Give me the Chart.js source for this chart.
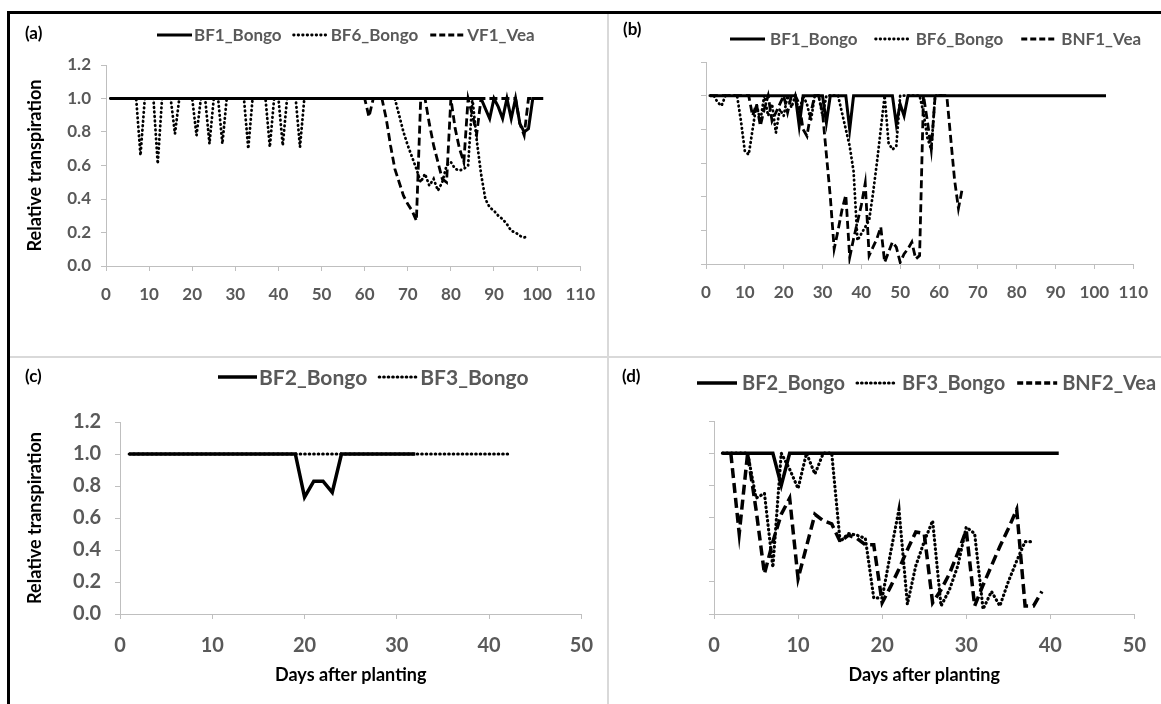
<!DOCTYPE html>
<html>
<head>
<meta charset="utf-8">
<script src="https://cdn.jsdelivr.net/npm/chart.js@4.4.1/dist/chart.umd.min.js"></script>
<style>
  body { margin: 0; background: #fff; }
  #fig { position: relative; width: 1161px; height: 704px; overflow: hidden; }
  canvas { position: absolute; }
  .line { position: absolute; }
</style>
</head>
<body>
<div id="fig">
  <canvas id="chartA" width="600" height="345" style="left:8px;top:12px"></canvas>
  <canvas id="chartB" width="553" height="345" style="left:608px;top:12px"></canvas>
  <canvas id="chartC" width="600" height="347" style="left:8px;top:357px"></canvas>
  <canvas id="chartD" width="553" height="347" style="left:608px;top:357px"></canvas>
  <div class="line" style="left:7px;top:11px;width:1154px;height:3px;background:#000"></div>
  <div class="line" style="left:7px;top:11px;width:3px;height:693px;background:#000"></div>
  <div class="line" style="left:607px;top:14px;width:2px;height:690px;background:#d9d9d9"></div>
  <div class="line" style="left:10px;top:356px;width:1151px;height:2px;background:#d9d9d9"></div>
</div>
<script>
// Panel (a)
const bf1A_days = [1, 87, 88, 89, 90, 91, 92, 93, 94, 95, 96, 97, 98, 99, 100];
const bf1A_vals = [1, 1, 0.94, 0.88, 1, 0.95, 0.88, 1, 0.88, 1, 0.85, 0.8, 0.82, 1, 1];
const bf6A_days = [1, 7, 8, 9, 11, 12, 13, 15, 16, 17, 20, 21, 22, 23, 24, 25, 26, 27, 28, 32, 33, 34, 37, 38, 39, 40, 41, 42, 44, 45, 46,
  67, 68, 69, 70, 71, 72, 73, 74, 75, 76, 77, 78, 79, 80, 81, 82, 83, 84, 85, 86, 87, 88, 89, 90, 91, 92, 93, 94, 95, 96, 97, 98];
const bf6A_vals = [1, 1, 0.66, 1, 1, 0.61, 1, 1, 0.79, 1, 1, 0.78, 1, 1, 0.73, 1, 1, 0.73, 1, 1, 0.7, 1, 1, 0.71, 1, 1, 0.72, 1, 1, 0.71, 1,
  1, 0.9, 0.8, 0.72, 0.65, 0.58, 0.5, 0.55, 0.48, 0.52, 0.45, 0.5, 0.6, 0.62, 0.58, 0.57, 0.58, 0.6, 1, 0.75, 0.55, 0.4, 0.35, 0.33, 0.3, 0.28, 0.25, 0.21, 0.2, 0.18, 0.17, 0.18];
const vf1A_days = [1, 60, 61, 62, 64, 65, 66, 67, 68, 69, 70, 71, 72, 73, 74, 75, 76, 77, 78, 79, 80, 81, 82, 83, 84, 85, 86, 87, 95, 96, 97, 98, 102];
const vf1A_vals = [1, 1, 0.89, 1, 1, 0.88, 0.72, 0.58, 0.5, 0.42, 0.37, 0.33, 0.27, 1, 1, 0.85, 0.72, 0.62, 0.52, 0.5, 1, 0.82, 0.7, 0.62, 1, 0.9, 0.79, 1, 1, 0.85, 0.78, 1, 1];

// Panel (b)
const bf1B_days = [1, 23, 24, 25, 30, 31, 32, 36, 37, 38, 48, 49, 50, 51, 52, 103];
const bf1B_vals = [1, 1, 0.82, 1, 1, 0.84, 1, 1, 0.8, 1, 1, 0.83, 0.95, 0.88, 1, 1];
const bf6B_days = [1, 2, 3, 4, 5, 8, 9, 10, 11, 12, 13, 14, 15, 16, 17, 18, 19, 20, 21, 22, 23, 24, 25, 26, 27, 28, 29, 30, 31, 34, 35, 36, 37, 38, 39, 40, 41, 42, 43, 44, 45, 46, 47, 48, 49, 50, 55, 56, 57, 58, 59, 61];
const bf6B_vals = [1, 1, 0.96, 0.94, 1, 1, 0.85, 0.67, 0.65, 0.8, 0.95, 0.85, 1, 0.88, 0.95, 0.78, 0.92, 0.88, 1, 0.93, 1, 0.9, 1, 0.95, 0.85, 1, 1, 0.88, 1, 1, 0.9, 0.8, 0.7, 0.55, 0.14, 0.18, 0.22, 0.26, 0.42, 0.6, 0.8, 1, 0.72, 0.68, 0.7, 1, 1, 0.9, 0.75, 0.68, 1, 1];
const bnf1B_days = [1, 11, 12, 13, 14, 15, 16, 17, 18, 19, 20, 21, 22, 23, 24, 25, 26, 27, 28, 29, 30, 31, 32, 33, 34, 35, 36, 37, 38, 39, 40, 41, 42, 43, 44, 45, 46, 47, 48, 49, 50, 51, 52, 53, 54, 55, 56, 57, 58, 59, 62, 63, 64, 65, 66];
const bnf1B_vals = [1, 1, 0.88, 0.95, 0.82, 0.92, 1, 0.85, 0.9, 0.95, 1, 0.9, 1, 1, 0.95, 0.8, 0.76, 0.9, 1, 1, 0.9, 0.65, 0.4, 0.09, 0.2, 0.32, 0.41, 0.04, 0.15, 0.25, 0.35, 0.48, 0.05, 0.1, 0.15, 0.22, 0.01, 0.07, 0.13, 0.1, 0.01, 0.06, 0.09, 0.13, 0.03, 0.05, 1, 0.85, 0.68, 1, 1, 0.75, 0.5, 0.33, 0.45];

// Panel (c)
const bf2C_days = [1, 19, 20, 21, 22, 23, 24, 32];
const bf2C_vals = [1, 1, 0.73, 0.83, 0.83, 0.76, 1, 1];
const bf3C_days = [1, 42];
const bf3C_vals = [1, 1];

// Panel (d)
const bf2D_days = [1, 7, 8, 9, 41];
const bf2D_vals = [1, 1, 0.8, 1, 1];
const bf3D_days = [1, 4, 5, 6, 7, 8, 9, 10, 11, 12, 13, 14, 15, 16, 17, 18, 19, 20, 21, 22, 23, 24, 25, 26, 27, 28, 29, 30, 31, 32, 33, 34, 35, 36, 37, 38];
const bf3D_vals = [1, 1, 0.72, 0.75, 0.29, 1, 0.9, 0.78, 1, 0.87, 1, 1, 0.45, 0.5, 0.49, 0.47, 0.1, 0.1, 0.38, 0.65, 0.06, 0.3, 0.45, 0.58, 0.05, 0.15, 0.3, 0.54, 0.5, 0.03, 0.14, 0.05, 0.2, 0.33, 0.45, 0.45];
const bnf2D_days = [2, 3, 4, 5, 6, 7, 8, 9, 10, 11, 12, 13, 14, 15, 16, 17, 18, 19, 20, 21, 22, 23, 24, 25, 26, 27, 28, 29, 30, 31, 32, 33, 34, 35, 36, 37, 38, 39];
const bnf2D_vals = [1, 0.5, 1, 0.65, 0.25, 0.45, 0.62, 0.72, 0.22, 0.42, 0.62, 0.58, 0.56, 0.45, 0.49, 0.47, 0.43, 0.43, 0.07, 0.17, 0.28, 0.4, 0.51, 0.5, 0.07, 0.15, 0.25, 0.38, 0.52, 0.05, 0.18, 0.3, 0.42, 0.53, 0.65, 0.05, 0.05, 0.14];

const yTicks = [0, 0.2, 0.4, 0.6, 0.8, 1.0, 1.2];
const xTicks110 = [0, 10, 20, 30, 40, 50, 60, 70, 80, 90, 100, 110];
const xTicks50 = [0, 10, 20, 30, 40, 50];
const FONT = "Lato";
const GREY = "#595959";
const AXIS = "#bfbfbf";

function pts(days, vals) {
  return days.map((d, i) => ({ x: d, y: vals[i] }));
}

// Line styles (Excel solid / round dot / dash)
function solid(label, data, w) {
  return { label, data, borderColor: "#000", borderWidth: w, pointRadius: 0, borderJoinStyle: "miter" };
}
function dotted(label, data, w) {
  return { label, data, borderColor: "#000", borderWidth: w, pointRadius: 0, borderDash: [0.5, 4], borderCapStyle: "round" };
}
function dashed(label, data, w, dash) {
  return { label, data, borderColor: "#000", borderWidth: w, pointRadius: 0, borderDash: dash, borderCapStyle: "butt" };
}

// Draws the legend row and the panel letter
const panelLegend = {
  id: "panelLegend",
  afterDraw(chart, args, o) {
    const ctx = chart.ctx;
    ctx.save();
    ctx.textBaseline = "middle";
    ctx.font = `bold ${o.size}px ${FONT}`;
    let x = o.x;
    chart.data.datasets.forEach(ds => {
      ctx.beginPath();
      ctx.setLineDash(ds.borderDash ? (ds.borderDash[0] > 1 ? [6, 3] : ds.borderDash) : []);
      ctx.lineCap = ds.borderCapStyle || "butt";
      ctx.lineWidth = ds.borderWidth;
      ctx.strokeStyle = ds.borderColor;
      ctx.moveTo(x, o.y);
      ctx.lineTo(x + o.line, o.y);
      ctx.stroke();
      x += o.line + o.gap;
      ctx.fillStyle = GREY;
      ctx.fillText(ds.label, x, o.y + 1);
      x += ctx.measureText(ds.label).width + o.space;
    });
    ctx.fillStyle = "#000";
    ctx.font = `bold 17px ${FONT}`;
    ctx.fillText(o.tag, o.tagX, o.tagY);
    ctx.restore();
  }
};

function makeChart(id, datasets, p) {
  const ctx = document.getElementById(id).getContext("2d");
  const tickFont = { family: FONT, weight: "bold", size: p.tickSize };
  const titleFont = { family: FONT, weight: "bold", size: 18 };
  return new Chart(ctx, {
    type: "line",
    data: { datasets },
    plugins: [panelLegend],
    options: {
      responsive: false,
      animation: false,
      devicePixelRatio: 1,
      layout: { padding: p.pad },
      plugins: {
        legend: { display: false },
        tooltip: { enabled: false },
        panelLegend: p.legend
      },
      scales: {
        x: {
          type: "linear", min: 0, max: p.xMax,
          afterBuildTicks: s => { s.ticks = p.xTicks.map(v => ({ value: v })); },
          ticks: { color: GREY, font: tickFont, padding: p.xPad, maxRotation: 0 },
          grid: { drawOnChartArea: false, drawTicks: true, tickLength: 5, color: AXIS },
          border: { color: AXIS, width: 1 },
          title: { display: !!p.xTitle, text: p.xTitle || "", color: "#000", font: titleFont, padding: 0 },
          afterFit: s => { s.height = p.xHeight; }
        },
        y: {
          min: 0, max: 1.2,
          afterBuildTicks: s => { s.ticks = yTicks.map(v => ({ value: v })); },
          ticks: { display: p.yLabels, color: GREY, font: tickFont, padding: p.yPad, callback: v => v.toFixed(1) },
          grid: { drawOnChartArea: false, drawTicks: true, tickLength: 5, color: AXIS },
          border: { color: AXIS, width: 1 },
          title: { display: !!p.yTitle, text: p.yTitle || "", color: "#000", font: titleFont, padding: 0 },
          afterFit: s => { s.width = p.yWidth; }
        }
      }
    }
  });
}

makeChart("chartA", [
  solid("BF1_Bongo", pts(bf1A_days, bf1A_vals), 3),
  dotted("BF6_Bongo", pts(bf6A_days, bf6A_vals), 2.8),
  dashed("VF1_Vea", pts(vf1A_days, vf1A_vals), 2.8, [8, 4])
], {
  pad: { left: 16, top: 53, right: 22, bottom: 21 }, yWidth: 82, xMax: 110, xTicks: xTicks110, xHeight: 70,
  tickSize: 17, xPad: 13, yPad: 10, yLabels: true, yTitle: "Relative transpiration",
  legend: { x: 149, y: 23, size: 17, line: 35, gap: 2, space: 12, tag: "(a)", tagX: 17, tagY: 22 }
});

makeChart("chartB", [
  solid("BF1_Bongo", pts(bf1B_days, bf1B_vals), 3),
  dotted("BF6_Bongo", pts(bf6B_days, bf6B_vals), 2.8),
  dashed("BNF1_Vea", pts(bnf1B_days, bnf1B_vals), 2.8, [8, 4])
], {
  pad: { left: 16, top: 50, right: 16, bottom: 23 }, yWidth: 82, xMax: 110, xTicks: xTicks110, xHeight: 70,
  tickSize: 17, xPad: 13, yPad: 10, yLabels: false,
  legend: { x: 122, y: 27, size: 17, line: 35, gap: 5, space: 18, tag: "(b)", tagX: 15, tagY: 18 }
});

makeChart("chartC", [
  solid("BF2_Bongo", pts(bf2C_days, bf2C_vals), 3.5),
  dotted("BF3_Bongo", pts(bf3C_days, bf3C_vals), 3.2)
], {
  pad: { left: 16, top: 65, right: 25, bottom: 18 }, yWidth: 96, xMax: 50, xTicks: xTicks50, xHeight: 72,
  tickSize: 20, xPad: 15, yPad: 14, yLabels: true, yTitle: "Relative transpiration", xTitle: "Days after planting",
  legend: { x: 210, y: 20, size: 21, line: 39, gap: 2, space: 12, tag: "(c)", tagX: 17, tagY: 20 }
});

makeChart("chartD", [
  solid("BF2_Bongo", pts(bf2D_days, bf2D_vals), 3.5),
  dotted("BF3_Bongo", pts(bf3D_days, bf3D_vals), 3.2),
  dashed("BNF2_Vea", pts(bnf2D_days, bnf2D_vals), 3.5, [10, 5])
], {
  pad: { left: 16, top: 64, right: 13, bottom: 18 }, yWidth: 90, xMax: 50, xTicks: xTicks50, xHeight: 72,
  tickSize: 20, xPad: 15, yPad: 14, yLabels: false, xTitle: "Days after planting",
  legend: { x: 89, y: 26, size: 20, line: 40, gap: 5, space: 12, tag: "(d)", tagX: 14, tagY: 20 }
});
</script>
</body>
</html>
